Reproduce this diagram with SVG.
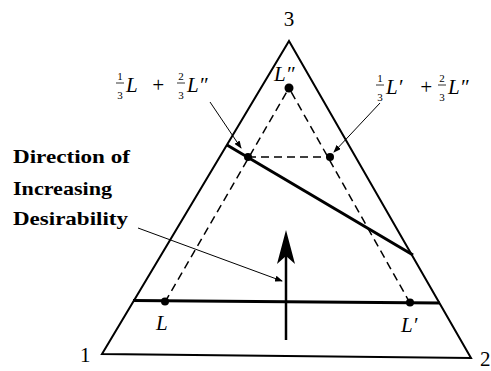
<svg xmlns="http://www.w3.org/2000/svg" width="491" height="371" viewBox="0 0 491 371">
<defs>
<style>
.edge{stroke:#000;stroke-width:2;fill:none;stroke-linejoin:miter}
.thick{stroke:#000;stroke-width:3;fill:none}
.dash{stroke:#000;stroke-width:1.5;fill:none;stroke-dasharray:8 5}
.lead{stroke:#000;stroke-width:1;fill:none}
.dot{fill:#000}
.num{font-family:"Liberation Serif",serif;font-size:21px;fill:#000}
.lab{font-family:"Liberation Serif",serif;font-style:italic;font-size:21px;fill:#000}
.frac{font-family:"Liberation Serif",serif;font-size:11px;fill:#000;text-anchor:middle}
.bar{stroke:#000;stroke-width:0.8}
.txt{font-family:"Liberation Serif",serif;font-weight:bold;font-size:19px;fill:#000}
</style>
<marker id="ah" markerWidth="8" markerHeight="6" refX="7" refY="3" orient="auto" markerUnits="userSpaceOnUse">
<path d="M0,0 L8,3 L0,6 Z" fill="#000"/>
</marker>
</defs>
<rect width="491" height="371" fill="#fff"/>
<g id="triangle">
<path class="edge" d="M289,41 L471,358 L102,354 Z"/>
</g>
<g id="connectors">
<line class="dash" x1="165" y1="302" x2="289" y2="88"/>
<line class="dash" x1="410" y1="303" x2="289" y2="88"/>
<line class="dash" x1="248" y1="157" x2="330" y2="157"/>
<line class="thick" x1="133" y1="300.5" x2="440" y2="303"/>
<line class="thick" x1="227" y1="145" x2="413" y2="255"/>
<line class="lead" x1="138" y1="228" x2="282" y2="281" marker-end="url(#ah)"/>
<line class="lead" x1="210" y1="102" x2="241" y2="148" marker-end="url(#ah)"/>
<line class="lead" x1="380" y1="103" x2="334" y2="152" marker-end="url(#ah)"/>
<line x1="286" y1="340" x2="286" y2="245" stroke="#000" stroke-width="2.5"/>
<path d="M286,230 L295,264 L286,256 L277,264 Z" fill="#000"/>
</g>
<g id="L">
<circle class="dot" cx="165" cy="301.5" r="4"/>
<text class="lab" x="156" y="330">L</text>
</g>
<g id="Lp">
<circle class="dot" cx="410" cy="302.5" r="4"/>
<text class="lab" x="401" y="332">L′</text>
</g>
<g id="Lpp">
<circle class="dot" cx="289" cy="88" r="4.5"/>
<text class="lab" x="274" y="81">L″</text>
</g>
<g id="mid-left">
<circle class="dot" cx="248" cy="157" r="4"/>
<text class="frac" x="120" y="80">1</text>
<line class="bar" x1="116" y1="83" x2="124" y2="83"/>
<text class="frac" x="120" y="99">3</text>
<text class="lab" x="126" y="92">L</text>
<text class="lab" x="151" y="92">+</text>
<text class="frac" x="181" y="80">2</text>
<line class="bar" x1="177" y1="83" x2="185" y2="83"/>
<text class="frac" x="181" y="99">3</text>
<text class="lab" x="187" y="92">L″</text>
</g>
<g id="mid-right">
<circle class="dot" cx="330" cy="157" r="4"/>
<text class="frac" x="380" y="82">1</text>
<line class="bar" x1="376" y1="85" x2="384" y2="85"/>
<text class="frac" x="380" y="101">3</text>
<text class="lab" x="386" y="94">L′</text>
<text class="lab" x="419" y="94">+</text>
<text class="frac" x="442" y="82">2</text>
<line class="bar" x1="438" y1="85" x2="446" y2="85"/>
<text class="frac" x="442" y="101">3</text>
<text class="lab" x="448" y="94">L″</text>
</g>
<g id="vertex-labels">
<text class="num" x="289" y="26" text-anchor="middle">3</text>
<text class="num" x="80" y="362">1</text>
<text class="num" x="480" y="366">2</text>
</g>
<g id="direction-label">
<text class="txt" x="13" y="163" textLength="117" lengthAdjust="spacingAndGlyphs">Direction of</text>
<text class="txt" x="13" y="195" textLength="99" lengthAdjust="spacingAndGlyphs">Increasing</text>
<text class="txt" x="13" y="225" textLength="115" lengthAdjust="spacingAndGlyphs">Desirability</text>
</g>
</svg>
